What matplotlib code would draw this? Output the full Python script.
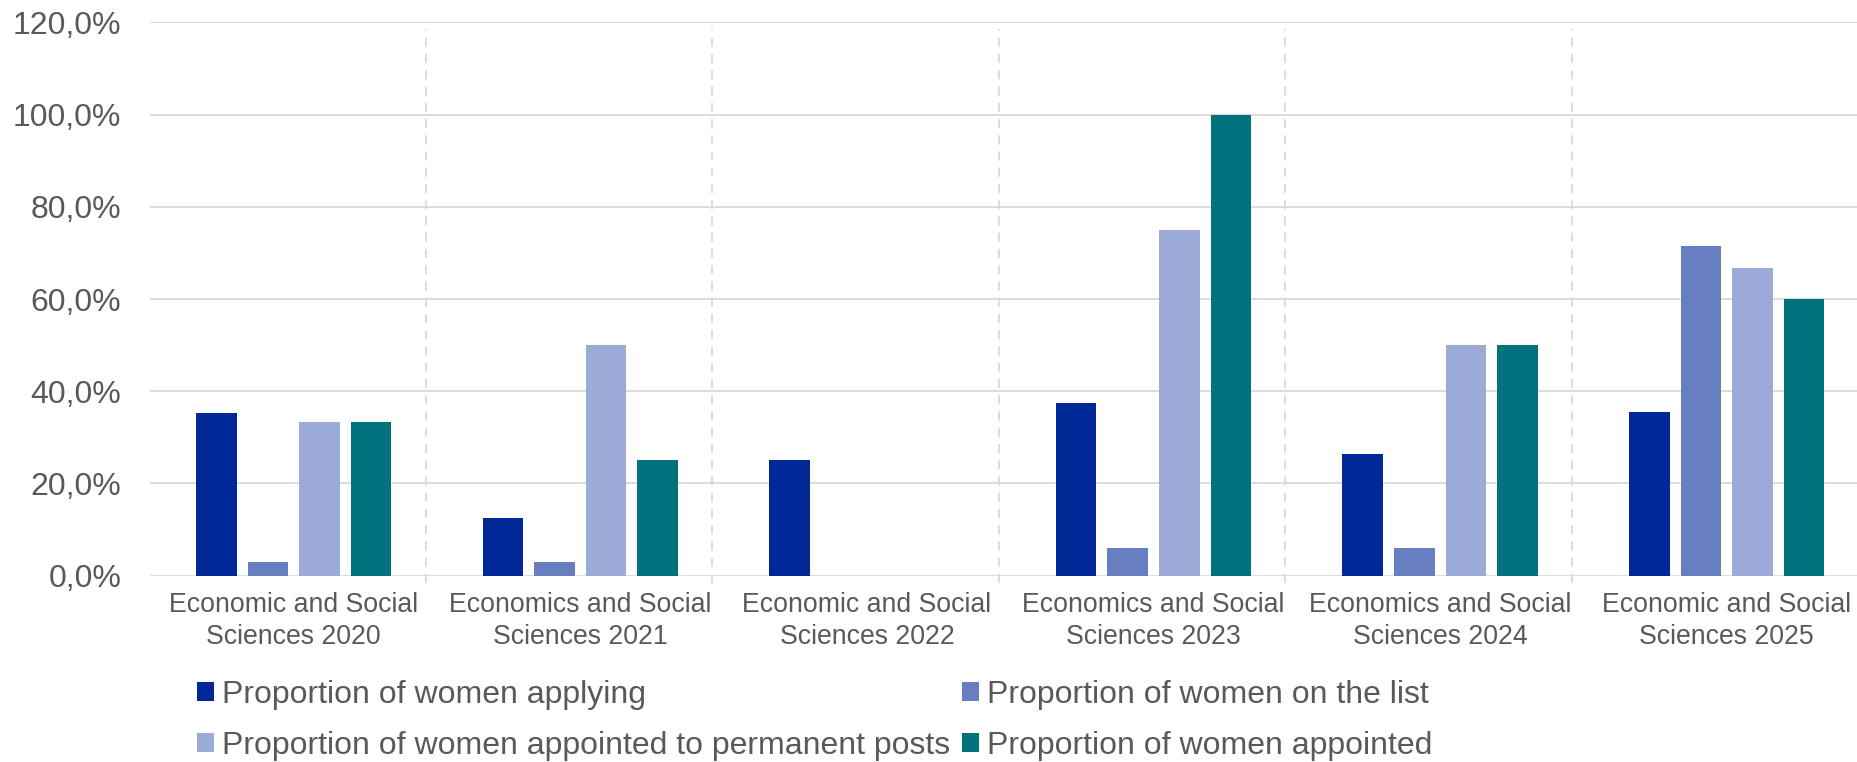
import matplotlib.pyplot as plt
import numpy as np
from matplotlib.ticker import FuncFormatter

plt.rcParams['font.family'] = ['Liberation Sans', 'DejaVu Sans']

# Chart data (percent)
categories = [
    "Economic and Social\nSciences 2020",
    "Economics and Social\nSciences 2021",
    "Economic and Social\nSciences 2022",
    "Economics and Social\nSciences 2023",
    "Economics and Social\nSciences 2024",
    "Economic and Social\nSciences 2025",
]
series_names = [
    "Proportion of women applying",
    "Proportion of women on the list",
    "Proportion of women appointed to permanent posts",
    "Proportion of women appointed",
]
applying = [35.3, 12.5, 25.0, 37.5, 26.3, 35.5]
on_list = [2.9, 2.9, 0.0, 5.9, 5.9, 71.4]
appointed_permanent = [33.3, 50.0, 0.0, 75.0, 50.0, 66.7]
appointed = [33.3, 25.0, 0.0, 100.0, 50.0, 60.0]
y_ticks = [0, 20, 40, 60, 80, 100, 120]

colors = ['#002896', '#677EC0', '#9BAAD6', '#00727D']
text_color = '#595959'
grid_color = '#D9D9D9'


def percent_label(value, pos):
    """Format ticks like 20,0% (comma as decimal separator)."""
    return f"{value:.1f}%".replace('.', ',')


def plot_chart():
    fig = plt.figure(figsize=(18.57, 7.62), dpi=100)
    # Plot area runs a bit past the right edge, like the cropped original
    ax = fig.add_axes([0.081, 0.2446, 0.926, 0.7259])

    x = np.arange(len(categories))
    bar_width = 0.142
    step = 0.18
    all_series = [applying, on_list, appointed_permanent, appointed]

    bars = []
    for i, values in enumerate(all_series):
        offset = (i - 1.5) * step
        b = ax.bar(x + offset, values, width=bar_width, color=colors[i],
                   label=series_names[i], zorder=3)
        bars.append(b)

    ax.set_xlim(-0.5, len(categories) - 0.5)
    ax.set_ylim(0, 120)
    ax.set_yticks(y_ticks)
    ax.yaxis.set_major_formatter(FuncFormatter(percent_label))
    ax.set_xticks(x)
    ax.set_xticklabels(categories, linespacing=1.28)

    # Horizontal gridlines only
    ax.grid(True, axis='y', color=grid_color, linewidth=1.3)
    ax.grid(False, axis='x')
    ax.set_axisbelow(True)
    for spine in ax.spines.values():
        spine.set_visible(False)

    ax.tick_params(axis='y', length=0, pad=21, labelsize=23, labelcolor=text_color)
    ax.tick_params(axis='x', length=0, pad=12, labelsize=19.2, labelcolor=text_color)

    # Dashed separators between the groups
    ax.vlines(x[:-1] + 0.46, -1.6, 118.5, colors=grid_color, linestyles=(0, (5, 4)),
              linewidth=1.3, clip_on=False, zorder=1)

    # Legend: two rows, two columns
    handles = [bars[0], bars[2], bars[1], bars[3]]
    labels = [series_names[0], series_names[2], series_names[1], series_names[3]]
    fig.legend(handles, labels, ncol=2, loc='upper left',
               bbox_to_anchor=(0.106, 0.108), frameon=False, fontsize=23,
               labelcolor=text_color, handlelength=0.55, handleheight=0.55,
               handletextpad=0.25, columnspacing=0.35, borderpad=0,
               labelspacing=0.67, borderaxespad=0)

    fig.savefig('out.png', dpi=100)


def main():
    plot_chart()


if __name__ == "__main__":
    main()
